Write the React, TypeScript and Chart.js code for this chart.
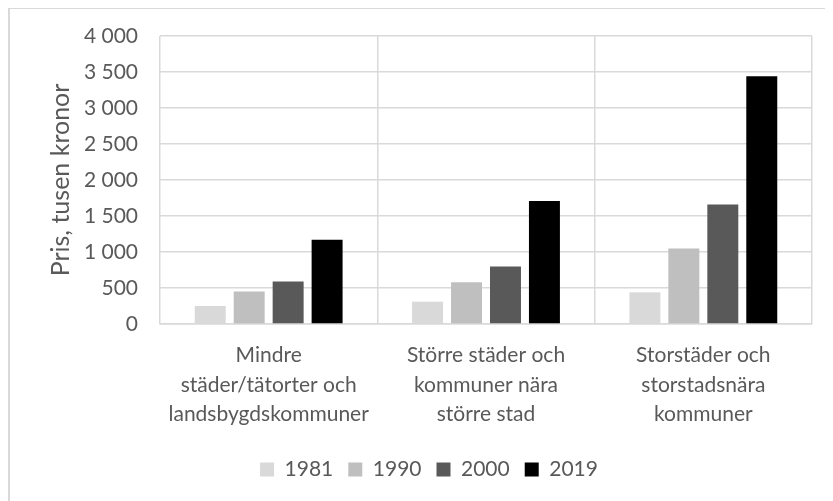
import React, { useEffect, useRef } from "react";
import { Chart, registerables } from "chart.js";

Chart.register(...registerables);

const categories: string[][] = [
  ["Mindre", "städer/tätorter och", "landsbygdskommuner"],
  ["Större städer och", "kommuner nära", "större stad"],
  ["Storstäder och", "storstadsnära", "kommuner"],
];
const years = ["1981", "1990", "2000", "2019"];
const values1981 = [250, 310, 440];
const values1990 = [450, 580, 1050];
const values2000 = [590, 800, 1660];
const values2019 = [1170, 1710, 3440];
const colors = ["#d9d9d9", "#bfbfbf", "#595959", "#000000"];
const yTitle = "Pris, tusen kronor";

const FONT = "Lato, sans-serif";

export default function App() {
  const ref = useRef<HTMLCanvasElement>(null);
  useEffect(() => {
    if (!ref.current) return;
    const series = [values1981, values1990, values2000, values2019];
    const chart = new Chart(ref.current, {
      type: "bar",
      data: {
        labels: categories,
        datasets: years.map((y, i) => ({
          label: y,
          data: series[i],
          backgroundColor: colors[i],
          borderWidth: 0,
          barPercentage: 0.795,
          categoryPercentage: 0.717,
        })),
      },
      options: {
        responsive: false,
        animation: false,
        layout: { padding: { top: 27, right: 21, left: 36, bottom: 11 } },
        plugins: {
          tooltip: { enabled: false },
          legend: {
            position: "bottom",
            labels: {
              boxWidth: 14,
              boxHeight: 14,
              padding: 15,
              color: "#595959",
              font: { family: FONT, size: 21 },
            },
          },
        },
        scales: {
          x: {
            afterFit: (scale: any) => {
              scale.height = 120;
            },
            grid: { offset: true, color: "#d9d9d9", lineWidth: 1.5, drawTicks: false },
            border: { color: "#d9d9d9", width: 1.5 },
            ticks: {
              color: "#595959",
              font: { family: FONT, size: 21, lineHeight: 1.4 },
              padding: 17,
              maxRotation: 0,
              autoSkip: false,
            },
          },
          y: {
            min: 0,
            max: 4000,
            afterFit: (scale: any) => {
              scale.width = 114;
              scale.paddingTop = 0;
              scale.paddingBottom = 0;
            },
            grid: { color: "#d9d9d9", lineWidth: 1.5, drawTicks: false },
            border: { display: false },
            ticks: {
              stepSize: 500,
              color: "#595959",
              padding: 22,
              font: { family: FONT, size: 21 },
              callback: (v: any) => String(v).replace(/\B(?=(\d{3})+(?!\d))/g, " "),
            },
            title: {
              display: true,
              text: yTitle,
              color: "#595959",
              font: { family: FONT, size: 25 },
              padding: { top: 0, bottom: 0 },
            },
          },
        },
      },
    });
    return () => chart.destroy();
  }, []);
  return (
    <div
      style={{
        marginTop: -1,
        width: 823,
        height: 492,
        borderTop: "2px solid #d9d9d9",
        borderLeft: "2px solid #d9d9d9",
        background: "#fff",
        overflow: "hidden",
      }}
    >
      <canvas ref={ref} width={823} height={492} style={{ display: "block" }} />
    </div>
  );
}
